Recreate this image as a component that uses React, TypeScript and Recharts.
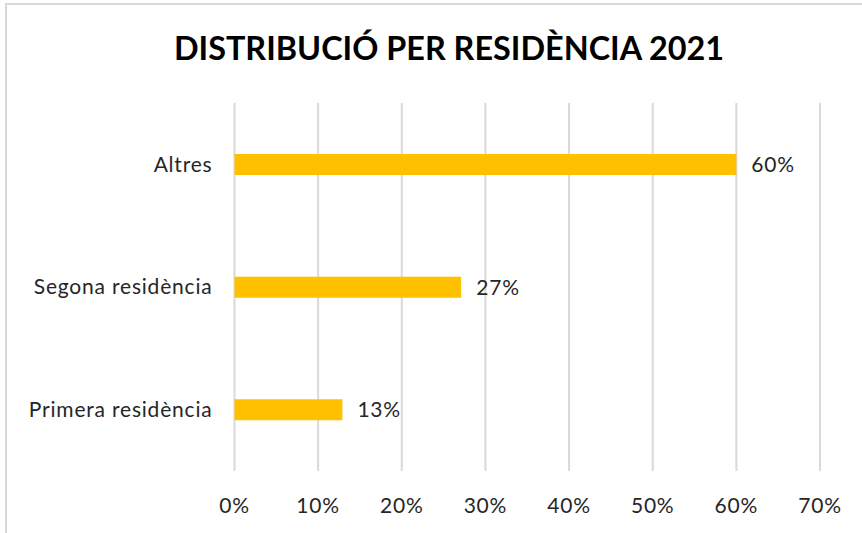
import React from 'react';
import { BarChart, Bar, XAxis, YAxis, CartesianGrid, LabelList } from 'recharts';

const categories = ['Altres', 'Segona residència', 'Primera residència'];
const values = [60, 27.1, 12.9];
const valueLabels = ['60%', '27%', '13%'];
const xTicks = [0, 10, 20, 30, 40, 50, 60, 70];

const data = categories.map((c, i) => ({ name: c, value: values[i], label: valueLabels[i] }));

const FONT = 'Lato, "Open Sans", sans-serif';
const tickStyle = { fill: '#262626', fontSize: 21, fontFamily: FONT, letterSpacing: 0.8 };

export default function App() {
  return (
    <div style={{ position: 'absolute', left: 0, top: 0, width: 862, height: 533, background: '#fff', overflow: 'hidden' }}>
      <div style={{ position: 'absolute', left: 5, top: 3, width: 900, height: 600, borderLeft: '2px solid #d9d9d9', borderTop: '2px solid #d9d9d9' }} />
      <div style={{ position: 'absolute', left: 0, top: 28, width: 898, textAlign: 'center', fontFamily: FONT, fontWeight: 700, fontSize: 32.4, color: '#000', letterSpacing: 0 }}>
        DISTRIBUCIÓ PER RESIDÈNCIA 2021
      </div>
      <div style={{ position: 'absolute', left: 0, top: 0 }}>
        <BarChart width={862} height={533} data={data} layout="vertical" margin={{ top: 103, right: 42, bottom: 22, left: 0 }}>
          <CartesianGrid horizontal={false} vertical={true} stroke="#d9d9d9" strokeWidth={2} />
          <XAxis
            type="number"
            domain={[0, 70]}
            ticks={xTicks}
            interval={0}
            axisLine={false}
            tickLine={false}
            tickSize={0}
            tickMargin={27}
            height={40}
            tickFormatter={(v: number) => `${v}%`}
            tick={tickStyle}
          />
          <YAxis
            type="category"
            dataKey="name"
            width={234.5}
            axisLine={false}
            tickLine={false}
            tickSize={0}
            tickMargin={22}
            tick={tickStyle}
          />
          <Bar dataKey="value" fill="#FFC000" barSize={21} isAnimationActive={false}>
            <LabelList dataKey="label" position="right" offset={15} fill="#262626" fontSize={21} fontFamily={FONT} letterSpacing={0.8} />
          </Bar>
        </BarChart>
      </div>
    </div>
  );
}
